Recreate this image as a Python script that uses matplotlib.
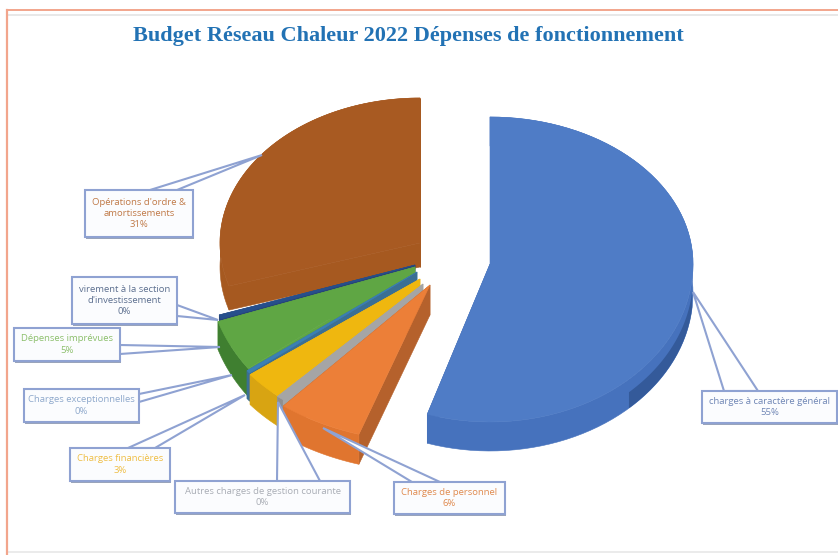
# Budget chart redrawn as a tilted, exploded pie. matplotlib has no 3d pie so
# each slice is built from its share: walls first and then the top face.

import numpy as np
import matplotlib
matplotlib.use('Agg')
import matplotlib.pyplot as plt
import matplotlib.patheffects as pe
from matplotlib.patches import Polygon, Rectangle

categories = ['charges à caractère général', 'Charges de personnel',
              'Autres charges de gestion courante', 'Charges financières',
              'Charges exceptionnelles', 'Dépenses imprévues',
              "virement à la section\nd'investissement",
              "Opérations d'ordre &\namortissements"]
values = [55, 6, 0.5, 3, 0.3, 5, 0.4, 29.8]
percent_labels = ['55%', '6%', '0%', '3%', '0%', '5%', '0%', '31%']

top_colors = ['#4f7cc6', '#ec7f38', '#a5a5a5', '#efb70f', '#3a80b4', '#5fa644', '#264f8c', '#a85a22']
wall_colors = ['#4672bd', '#e0752f', '#8f8f8f', '#d8a412', '#3a6f94', '#3f7f30', '#264478', '#a65920']
cut_colors = ['#3a62a8', '#b5612c', '#a5a5a5', '#efb70f', '#3a6f94', '#5fa644', '#264478', '#a65920']
text_colors = ['#6f86b5', '#e08a4e', '#a9adb5', '#efbe45', '#8fa9cc', '#8cbf6c', '#5c6f8f', '#c07a48']

# layout of each slice in pixels: apex x, apex y, rx, ry up, ry down, depth
slice_geom = [(490, 264, 203, 147, 158, 29),
              (430, 285, 230, 157, 157, 30),
              (423, 284, 220, 150, 150, 30),
              (420, 279, 215, 156, 156, 30),
              (417, 272, 212, 165, 165, 28),
              (415, 267, 208, 170, 170, 28),
              (415, 265, 205, 168, 168, 24),
              (420, 243, 200, 145, 145, 24)]

# box x0, y0, x1, y1 for each label
boxes = [(702, 391, 837, 423), (394, 482, 505, 514), (175, 481, 350, 513),
         (70, 448, 170, 481), (24, 389, 139, 422), (14, 328, 120, 361),
         (72, 277, 177, 324), (85, 190, 193, 237)]
# callout: tip on the slice and its two feet on the box
callouts = [((693, 292), (724, 391), (758, 391)),
            ((323, 428), (412, 482), (440, 482)),
            ((278, 402), (277, 481), (320, 481)),
            ((245, 395), (128, 448), (155, 448)),
            ((232, 375), (139, 394), (139, 402)),
            ((220, 347), (120, 345), (120, 354)),
            ((218, 320), (177, 305), (177, 316)),
            ((262, 155), (150, 190), (177, 190))]

title = 'Budget Réseau Chaleur 2022 Dépenses de fonctionnement'


def rim(theta, geom):
    """Points of the tilted rim, theta in radians clockwise from 12 o'clock"""
    cx, cy, rx, ry_up, ry_down, depth = geom
    v = np.cos(theta)
    x = cx + rx*np.sin(theta)
    y = cy - np.where(v > 0, ry_up, ry_down)*v
    return np.column_stack([x, y])


fig = plt.figure(figsize=(8.38, 5.55), dpi=100)
ax = fig.add_axes([0, 0, 1, 1])
ax.set_xlim(0, 838)
ax.set_ylim(555, 0)
ax.axis('off')

# page frame
ax.plot([7, 838], [15, 15], color='#e4e4e4', lw=1.2)
ax.plot([7, 838], [552, 552], color='#e8e8e8', lw=1.2)
ax.plot([7, 7], [9.5, 555], color='#f2a58c', lw=1.6)
ax.plot([7, 838], [9.5, 9.5], color='#f2a58c', lw=1.4)

shares = np.array(values)/sum(values)
edges = np.concatenate([[0], np.cumsum(shares)])*2*np.pi

# back slices first, the blue one goes last
for i in [7, 6, 5, 4, 3, 2, 1, 0]:
    geom = slice_geom[i]
    theta = np.linspace(edges[i], edges[i+1], 80)
    arc = rim(theta, geom)
    apex = np.array([geom[0], geom[1]])
    drop = np.array([0, geom[5]])

    for end in [arc[0], arc[-1]]:
        ax.add_patch(Polygon([apex, end, end+drop, apex+drop], color=cut_colors[i], lw=0.4))
    ax.add_patch(Polygon(np.vstack([arc, (arc+drop)[::-1]]), color=wall_colors[i], lw=0.4))
    ax.add_patch(Polygon(np.vstack([apex, arc]), color=top_colors[i], lw=0.4))

# darker outer half of the blue wall, on the right hand side
theta = np.linspace(np.pi*0.53, np.pi*0.76, 60)
arc = rim(theta, slice_geom[0])
drop = np.array([0, slice_geom[0][5]])
ax.add_patch(Polygon(np.vstack([arc+drop*0.45, (arc+drop)[::-1]]), color='#345a9a', lw=0))

for i in range(len(categories)):
    tip, foot1, foot2 = callouts[i]
    ax.add_patch(Polygon([tip, foot1, foot2], facecolor='white', edgecolor='#8fa2d2', lw=1.5, zorder=5))
    x0, y0, x1, y1 = boxes[i]
    ax.add_patch(Rectangle((x0, y0), x1-x0, y1-y0, facecolor='#fbfcfe', edgecolor='#8fa2d2', lw=1.5, zorder=6,
                           path_effects=[pe.SimplePatchShadow(offset=(1, -1.5), shadow_rgbFace='#6f7f9f', alpha=0.7), pe.Normal()]))
    ax.text((x0+x1)/2, (y0+y1)/2, categories[i] + '\n' + percent_labels[i], ha='center', va='center',
            fontsize=6.8, color=text_colors[i], family='Open Sans', linespacing=1.35, zorder=7)

ax.text(408, 36.5, title, ha='center', va='center', fontsize=16, fontweight='bold',
        color='#2272b4', family='Liberation Serif')

fig.savefig('out.png', dpi=100)
